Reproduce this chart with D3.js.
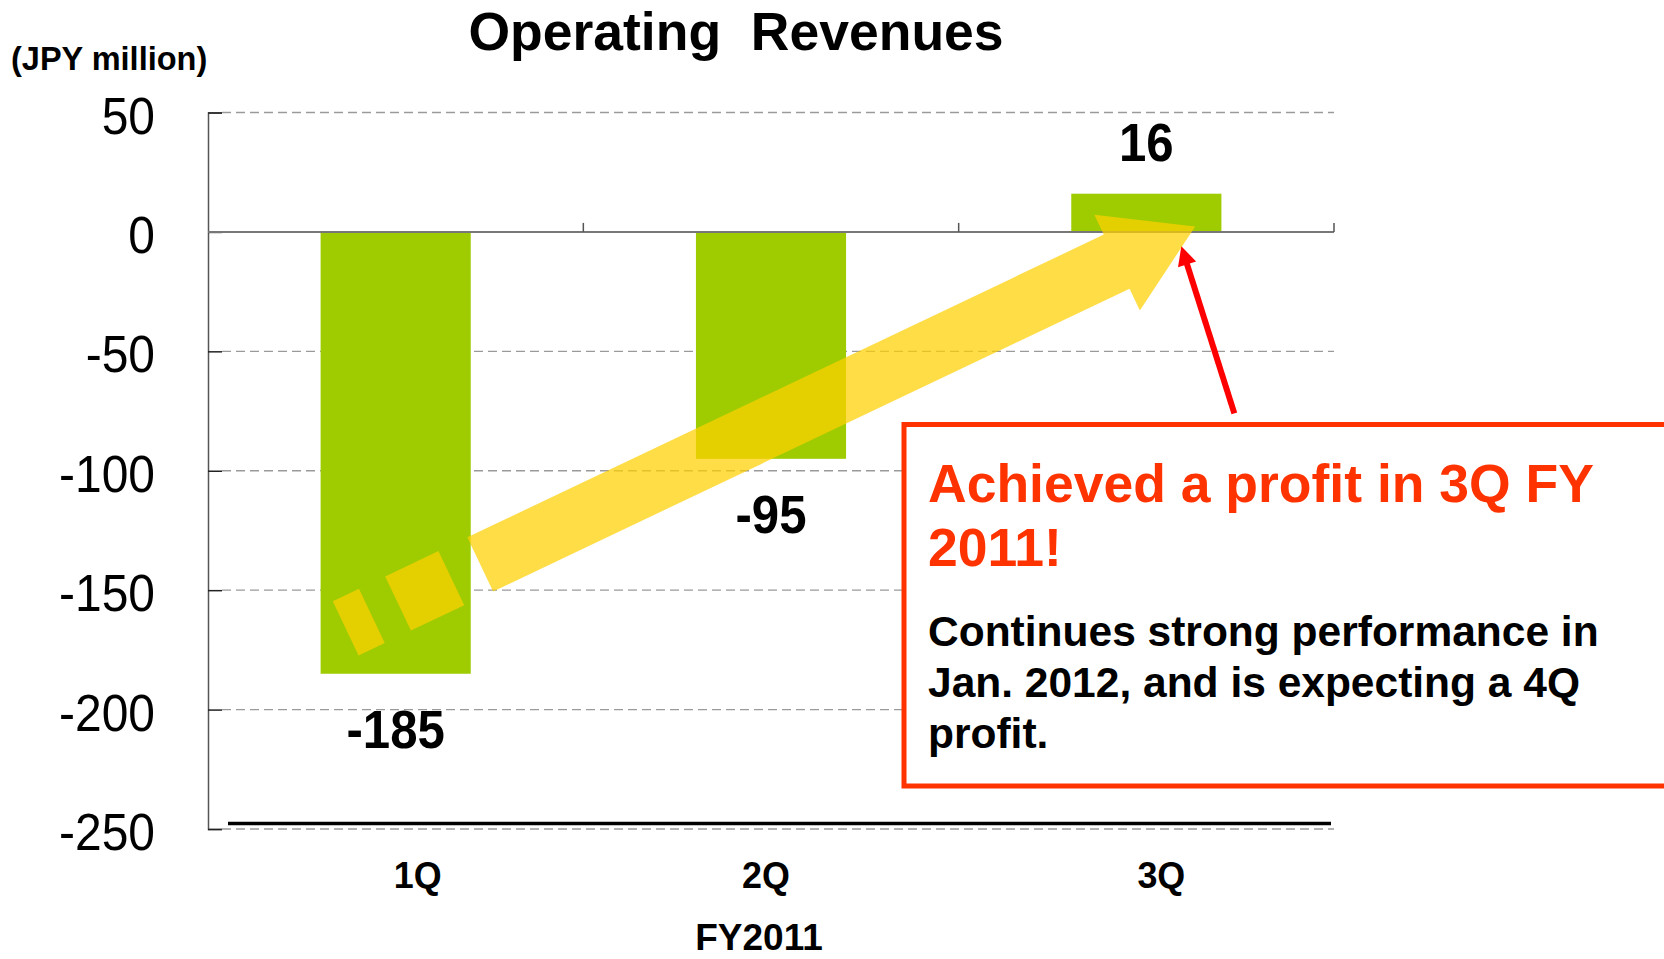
<!DOCTYPE html>
<html>
<head>
<meta charset="utf-8">
<script src="https://cdn.jsdelivr.net/npm/d3@7"></script>
<style>
  html, body { margin: 0; padding: 0; background: #fff; overflow: hidden; }
  svg { display: block; }
</style>
</head>
<body>
<script>
// ---- data ----
const categories = ["1Q", "2Q", "3Q"];
const values = [-185, -95, 16];
const yTicks = [50, 0, -50, -100, -150, -200, -250];
const yDomain = [-250, 50];
const chartTitle = "Operating  Revenues";
const unitLabel = "(JPY million)";
const xAxisTitle = "FY2011";
const calloutHead = ["Achieved a profit in 3Q FY", "2011!"];
const calloutBody = ["Continues strong performance in", "Jan. 2012, and is expecting a 4Q", "profit."];

// ---- layout ----
const W = 1664, H = 959;
const plot = { left: 208, right: 1334, top: 112.5, bottom: 829 };
const catLabelShift = [22, -5, 15];
const FONT = "'Liberation Sans', Arial, Helvetica, sans-serif";

const svg = d3.select("body").append("svg").attr("width", W).attr("height", H);
svg.append("rect").attr("width", W).attr("height", H).attr("fill", "#fff");

const x = d3.scaleBand().domain(categories).range([plot.left, plot.right])
  .paddingInner(0.6).paddingOuter(0.3);
const y = d3.scaleLinear().domain(yDomain).range([plot.bottom, plot.top]);
const step = x.step();
const cx = c => x(c) + x.bandwidth() / 2;

function txt(g, o) {
  return g.append("text")
    .attr("transform", `translate(${o.x},${o.y}) scale(${o.sx || 1},1)`)
    .attr("font-family", FONT)
    .attr("font-size", o.size)
    .attr("font-weight", o.weight || "normal")
    .attr("text-anchor", o.anchor || "start")
    .attr("fill", o.fill || "#000")
    .style("white-space", "pre")
    .text(o.text);
}

// gridlines (dashed)
svg.append("g").selectAll("line").data(yTicks.filter(d => d !== 0)).join("line")
  .attr("x1", plot.left + 14).attr("x2", plot.right)
  .attr("y1", d => y(d)).attr("y2", d => y(d))
  .attr("stroke", "#9a9a9a").attr("stroke-width", 1.3)
  .attr("stroke-dasharray", "9,5");

// bars
svg.append("g").selectAll("rect").data(values).join("rect")
  .attr("x", (d, i) => x(categories[i]))
  .attr("width", x.bandwidth())
  .attr("y", d => y(Math.max(0, d)))
  .attr("height", d => Math.abs(y(d) - y(0)))
  .attr("fill", "#9ECC00");

// y axis with inward ticks
const yAxis = d3.axisRight(y).tickValues(yTicks).tickSize(14).tickFormat("");
const yg = svg.append("g").attr("transform", `translate(${plot.left},0)`).call(yAxis);
yg.select(".domain").attr("stroke", "#555").attr("stroke-width", 1.5);
yg.selectAll(".tick line").attr("stroke", "#222").attr("stroke-width", 1.5);

// y tick labels
yTicks.forEach(v => {
  txt(svg, { x: 155, y: y(v) + 21, text: String(v), size: 51, anchor: "end", sx: 0.94 });
});

// zero line with category boundary ticks
svg.append("line").attr("x1", plot.left).attr("x2", plot.right)
  .attr("y1", y(0)).attr("y2", y(0)).attr("stroke", "#777").attr("stroke-width", 2);
const boundaries = categories.map((c, i) => plot.left + step * (i + 1));
svg.append("g").selectAll("line").data(boundaries).join("line")
  .attr("x1", d => d).attr("x2", d => d)
  .attr("y1", y(0)).attr("y2", y(0) - 9)
  .attr("stroke", "#555").attr("stroke-width", 1.5);

// bottom thick line
svg.append("line").attr("x1", plot.left + 20).attr("x2", plot.right - 3)
  .attr("y1", y(-250) - 5.5).attr("y2", y(-250) - 5.5)
  .attr("stroke", "#000").attr("stroke-width", 3.5);

// value labels
values.forEach((v, i) => {
  const yy = v >= 0 ? y(v) - 33 : y(v) + 74;
  txt(svg, { x: cx(categories[i]), y: yy, text: String(v), size: 54, weight: "bold", anchor: "middle", sx: 0.91 });
});

// category labels
categories.forEach((c, i) => {
  txt(svg, { x: cx(c) + catLabelShift[i], y: 888, text: c, size: 37, weight: "bold", anchor: "middle", sx: 0.97 });
});
txt(svg, { x: 759, y: 950, text: xAxisTitle, size: 37, weight: "bold", anchor: "middle", sx: 1.0 });

// title & unit
txt(svg, { x: 736, y: 50, text: chartTitle, size: 53.5, weight: "bold", anchor: "middle" });
txt(svg, { x: 11, y: 70, text: unitLabel, size: 32.5, weight: "bold", sx: 1.0 });

// ---- big yellow arrow (anchored on scales) ----
const aStart = [cx("1Q") - 50, y(-166)];
const aEnd = [cx("3Q") + 48, y(3)];
const dxA = aEnd[0] - aStart[0], dyA = aEnd[1] - aStart[1];
const L = Math.hypot(dxA, dyA);
const ang = Math.atan2(dyA, dxA) * 180 / Math.PI;
const ag = svg.append("g")
  .attr("transform", `translate(${aStart[0]},${aStart[1]}) rotate(${ang})`)
  .attr("fill", "#FFD000").attr("fill-opacity", 0.72);
ag.append("rect").attr("x", 0).attr("y", -30).attr("width", 29).attr("height", 60);
ag.append("rect").attr("x", 58).attr("y", -30).attr("width", 59).attr("height", 60);
const headBase = L - 86;
ag.append("path").attr("d",
  `M149,-30 L${headBase},-30 L${headBase},-52 L${L},2 L${headBase},54 L${headBase},30 L149,30 Z`);

// ---- callout box ----
svg.append("rect").attr("x", 904).attr("y", 424.5).attr("width", 820).attr("height", 361.5)
  .attr("fill", "#fff").attr("stroke", "#FF3300").attr("stroke-width", 5);
calloutHead.forEach((t, i) => {
  txt(svg, { x: 928, y: 502 + i * 64, text: t, size: 53.5, weight: "bold", fill: "#FF3300", sx: 1.0 });
});
calloutBody.forEach((t, i) => {
  txt(svg, { x: 928, y: 646 + i * 51, text: t, size: 42.5, weight: "bold", sx: 1.0 });
});

// ---- red pointer arrow ----
const rStart = [cx("3Q") + 88, y(-76)];
const rEnd = [cx("3Q") + 35, y(-6)];
const rdx = rEnd[0] - rStart[0], rdy = rEnd[1] - rStart[1];
const rL = Math.hypot(rdx, rdy);
const rAng = Math.atan2(rdy, rdx) * 180 / Math.PI;
const rg = svg.append("g").attr("transform", `translate(${rStart[0]},${rStart[1]}) rotate(${rAng})`);
rg.append("line").attr("x1", 0).attr("x2", rL - 14).attr("y1", 0).attr("y2", 0)
  .attr("stroke", "#FF0000").attr("stroke-width", 6);
rg.append("path").attr("d", `M${rL},0 L${rL - 19},-9.5 L${rL - 19},9.5 Z`).attr("fill", "#FF0000");
</script>
</body>
</html>
